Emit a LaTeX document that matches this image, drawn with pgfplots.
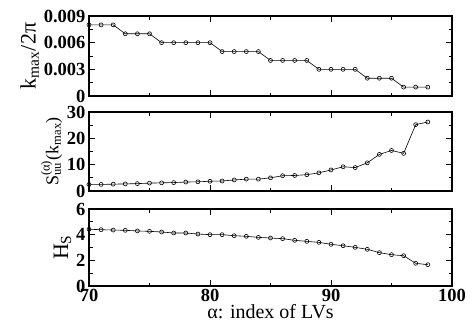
\documentclass[border=0pt]{standalone}
\usepackage{fontspec}
\setmainfont{Liberation Serif}
\usepackage{amsmath}
\usepackage{pgfplots}
\pgfplotsset{compat=1.18}
\pgfplotsset{panel/.style={
  scale only axis, width=363pt,
  xmin=70, xmax=100, xtick={70,80,90,100}, minor xtick={75,85,95},
  tick align=inside, xtick pos=both, ytick pos=both,
  scaled y ticks=false,
  axis line style={line width=1.4pt},
  major tick style={line width=1pt, black}, minor tick style={line width=1pt, black},
  major tick length=6pt, minor tick length=3.5pt,
  /pgf/number format/assume math mode=true,
  tick label style={font=\fontsize{18.5}{18.5}\selectfont\bfseries},
  label style={font=\fontsize{20}{22}\selectfont},
  ylabel shift=-2pt, xlabel shift=-4pt,
},
ln/.style={black, line width=0.6pt, mark=o, mark size=2pt, mark options={line width=0.6pt, fill=white, solid}}}
\begin{document}
\begin{tikzpicture}
\path[use as bounding box] (0,0) rectangle (473pt,325pt);
\begin{axis}[panel, at={(89pt,229pt)}, anchor=south west, height=80pt,
  ymin=0, ymax=0.009, ytick={0,0.003,0.006,0.009}, yticklabels={0,0.003,0.006,0.009},
  minor ytick={0.0015,0.0045,0.0075}, xticklabels={},
  ylabel style={font=\fontsize{22}{24}\selectfont},
  ylabel={k\textsubscript{max}/2π}]
\addplot[ln] coordinates {(70,0.008)(71,0.008)(72,0.008)(73,0.007)(74,0.007)(75,0.007)
(76,0.006)(77,0.006)(78,0.006)(79,0.006)(80,0.006)(81,0.005)(82,0.005)(83,0.005)(84,0.005)
(85,0.004)(86,0.004)(87,0.004)(88,0.004)(89,0.003)(90,0.003)(91,0.003)(92,0.003)
(93,0.002)(94,0.002)(95,0.002)(96,0.001)(97,0.001)(98,0.001)};
\end{axis}
\begin{axis}[panel, at={(89pt,134pt)}, anchor=south west, height=79pt,
  ymin=0, ymax=30, ytick={0,10,20,30}, minor ytick={5,15,25}, xticklabels={},
  ylabel style={font=\fontsize{18}{20}\selectfont},
  ylabel={S$^{\text{(α)}}_{\text{uu}}$(k\textsubscript{max})}]
\addplot[ln] coordinates {(70,2.5)(71,2.5)(72,2.6)(73,2.7)(74,2.8)(75,3.0)(76,3.1)(77,3.2)
(78,3.4)(79,3.5)(80,3.7)(81,3.8)(82,4.2)(83,4.5)(84,4.5)(85,5.0)(86,5.8)(87,5.9)(88,6.2)
(89,6.9)(90,8.0)(91,9.2)(92,8.9)(93,10.7)(94,13.9)(95,15.4)(96,14.3)(97,25.2)(98,26.2)};
\end{axis}
\begin{axis}[panel, at={(89pt,39pt)}, anchor=south west, height=77pt,
  ymin=0, ymax=6, ytick={0,2,4,6}, minor ytick={1,3,5},
  ylabel style={font=\fontsize{22}{24}\selectfont},
  xlabel={α: index of LVs}, ylabel={H\textsubscript{S}}]
\addplot[ln] coordinates {(70,4.42)(71,4.39)(72,4.36)(73,4.34)(74,4.29)(75,4.26)(76,4.21)
(77,4.13)(78,4.13)(79,4.05)(80,4.0)(81,4.0)(82,3.92)(83,3.87)(84,3.79)(85,3.74)(86,3.69)
(87,3.56)(88,3.48)(89,3.40)(90,3.25)(91,3.14)(92,3.01)(93,2.86)(94,2.60)(95,2.44)(96,2.36)
(97,1.77)(98,1.66)};
\end{axis}
\end{tikzpicture}
\end{document}
